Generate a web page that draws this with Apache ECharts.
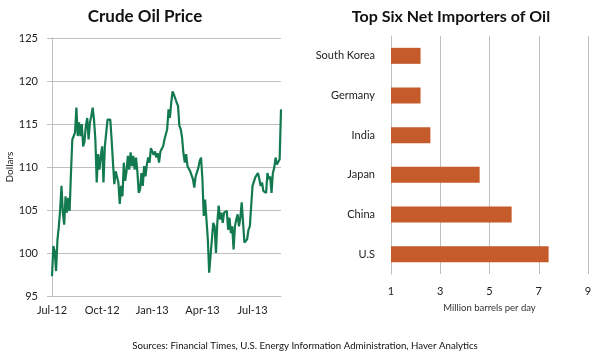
<!DOCTYPE html>
<html>
<head>
<meta charset="utf-8">
<script src="https://cdn.jsdelivr.net/npm/echarts@6/dist/echarts.min.js"></script>
<style>
	html, body { margin: 0; padding: 0; background: #fff; }
	#main { width: 600px; height: 352px; }
</style>
</head>
<body>
<div id="main"></div>
<script>
// crude oil price (one point per ~1.35 px)
var oilPrice = [
	97.3, 100.8, 100.2, 97.9, 101.5, 103.0, 105.0, 107.8, 104.7, 103.3,
	106.6, 104.7, 106.4, 104.9, 109.3, 113.2, 113.4, 114.0, 116.9, 113.6,
	115.2, 113.6, 115.0, 112.4, 113.0, 114.8, 115.7, 113.2, 115.2, 115.9,
	116.9, 115.5, 113.2, 108.2, 111.5, 109.7, 111.3, 112.4, 108.2, 112.4,
	112.6, 115.5, 115.7, 115.5, 113.2, 110.5, 108.0, 109.5, 109.3, 108.2,
	105.7, 107.8, 106.6, 110.5, 108.4, 109.5, 111.3, 109.7, 111.7, 110.1,
	111.3, 109.7, 111.1, 109.5, 107.0, 107.4, 109.3, 107.8, 110.1, 108.9,
	110.3, 111.1, 110.5, 112.2, 112.4, 111.4, 111.8, 111.1, 111.6, 110.5,
	111.8, 111.6, 112.4, 113.2, 113.4, 114.4, 116.7, 115.7, 117.5, 118.8,
	118.4, 118.6, 117.5, 117.1, 114.8, 114.4, 113.4, 111.6, 110.5, 111.5,
	110.1, 110.3, 109.5, 109.7, 108.6, 107.6, 108.9, 108.7, 109.9, 110.7,
	111.1, 108.6, 104.3, 106.2, 103.9, 101.6, 97.7, 99.7, 101.6, 103.5,
	103.1, 100.0, 103.5, 105.5, 103.9, 104.7, 103.5, 104.7, 104.5, 104.9,
	102.7, 104.1, 102.3, 103.1, 100.4, 103.1, 103.9, 104.5, 103.1, 104.1,
	105.9, 106.1, 101.2, 101.0, 101.6, 102.7, 103.1, 105.5, 107.8, 107.6,
	108.8, 109.0, 109.3, 108.6, 107.8, 108.2, 107.2, 107.2, 107.0, 109.3,
	108.6, 108.9, 107.0, 109.3, 109.9, 111.1, 110.3, 110.1, 110.9, 116.7
];
var quarterLabels = ['Jul-12', 'Oct-12', 'Jan-13', 'Apr-13', 'Jul-13'];
var pointsPerQuarter = 37;

// importers, bottom to top
var countries = ['U.S', 'China', 'Japan', 'India', 'Germany', 'South Korea'];
var imports = [7.4, 5.9, 4.6, 2.6, 2.2, 2.2];

var font = 'Lato, "Open Sans", sans-serif';
var gridColor = '#bfbfbf';
var labelColor = '#222';

var days = [];
for (var i = 0; i < oilPrice.length; i++) {
	days.push(i);
}

var myChart = echarts.init(document.getElementById('main'));

option = {
	animation: false,
	textStyle: { fontFamily: font },
	title: [
		{
			text: 'Crude Oil Price',
			left: 140, top: 3, textAlign: 'center',
			textStyle: { fontSize: 17, fontWeight: 'bold', color: '#111', fontFamily: font }
		},
		{
			text: 'Top Six Net Importers of Oil',
			left: 446, top: 4, textAlign: 'center',
			textStyle: { fontSize: 16, fontWeight: 'bold', color: '#111', fontFamily: font }
		},
		{
			text: 'Sources: Financial Times, U.S. Energy Information Administration, Haver Analytics',
			left: 300, top: 336, textAlign: 'center',
			textStyle: { fontSize: 9.7, fontWeight: 'normal', color: '#111', fontFamily: font }
		}
	],
	grid: [
		{ left: 52, right: 319, top: 38, bottom: 56 },
		{ left: 391, right: 12, top: 36, bottom: 78 }
	],
	xAxis: [
		{
			gridIndex: 0,
			type: 'category',
			data: days,
			boundaryGap: false,
			axisLine: { lineStyle: { color: gridColor } },
			axisTick: { show: false },
			axisLabel: {
				interval: pointsPerQuarter - 1,
				margin: 9,
				fontSize: 11,
				color: labelColor,
				fontFamily: font,
				formatter: function(v, idx) {
					return quarterLabels[idx / pointsPerQuarter] || '';
				}
			},
			splitLine: { show: false }
		},
		{
			gridIndex: 1,
			type: 'value',
			min: 1,
			max: 9,
			interval: 2,
			name: 'Million barrels per day',
			nameLocation: 'middle',
			nameGap: 29,
			nameTextStyle: { fontSize: 9.5, color: '#333', fontFamily: font },
			axisLine: { show: false },
			axisTick: { show: false },
			axisLabel: { margin: 12, fontSize: 11, color: labelColor, fontFamily: font },
			splitLine: { lineStyle: { color: gridColor } }
		}
	],
	yAxis: [
		{
			gridIndex: 0,
			type: 'value',
			min: 95,
			max: 125,
			interval: 5,
			name: 'Dollars',
			nameLocation: 'middle',
			nameGap: 36,
			nameTextStyle: { fontSize: 10, color: labelColor, fontFamily: font },
			axisLine: { show: true, lineStyle: { color: gridColor } },
			axisTick: { show: true, length: 5, lineStyle: { color: gridColor } },
			axisLabel: { margin: 14, fontSize: 11, color: labelColor, fontFamily: font },
			splitLine: { lineStyle: { color: gridColor } }
		},
		{
			gridIndex: 1,
			type: 'category',
			data: countries,
			axisLine: { show: true, lineStyle: { color: gridColor } },
			axisTick: { show: false },
			axisLabel: { margin: 16, fontSize: 11, color: labelColor, fontFamily: font }
		}
	],
	series: [
		{
			name: 'Crude Oil Price',
			type: 'line',
			xAxisIndex: 0,
			yAxisIndex: 0,
			data: oilPrice,
			showSymbol: false,
			lineStyle: { color: '#137a4f', width: 2.2 },
			itemStyle: { color: '#137a4f' }
		},
		{
			name: 'Net imports',
			type: 'bar',
			xAxisIndex: 1,
			yAxisIndex: 1,
			data: imports,
			barWidth: 16,
			itemStyle: { color: '#c55a2b' }
		}
	]
};

myChart.setOption(option);
</script>
</body>
</html>
